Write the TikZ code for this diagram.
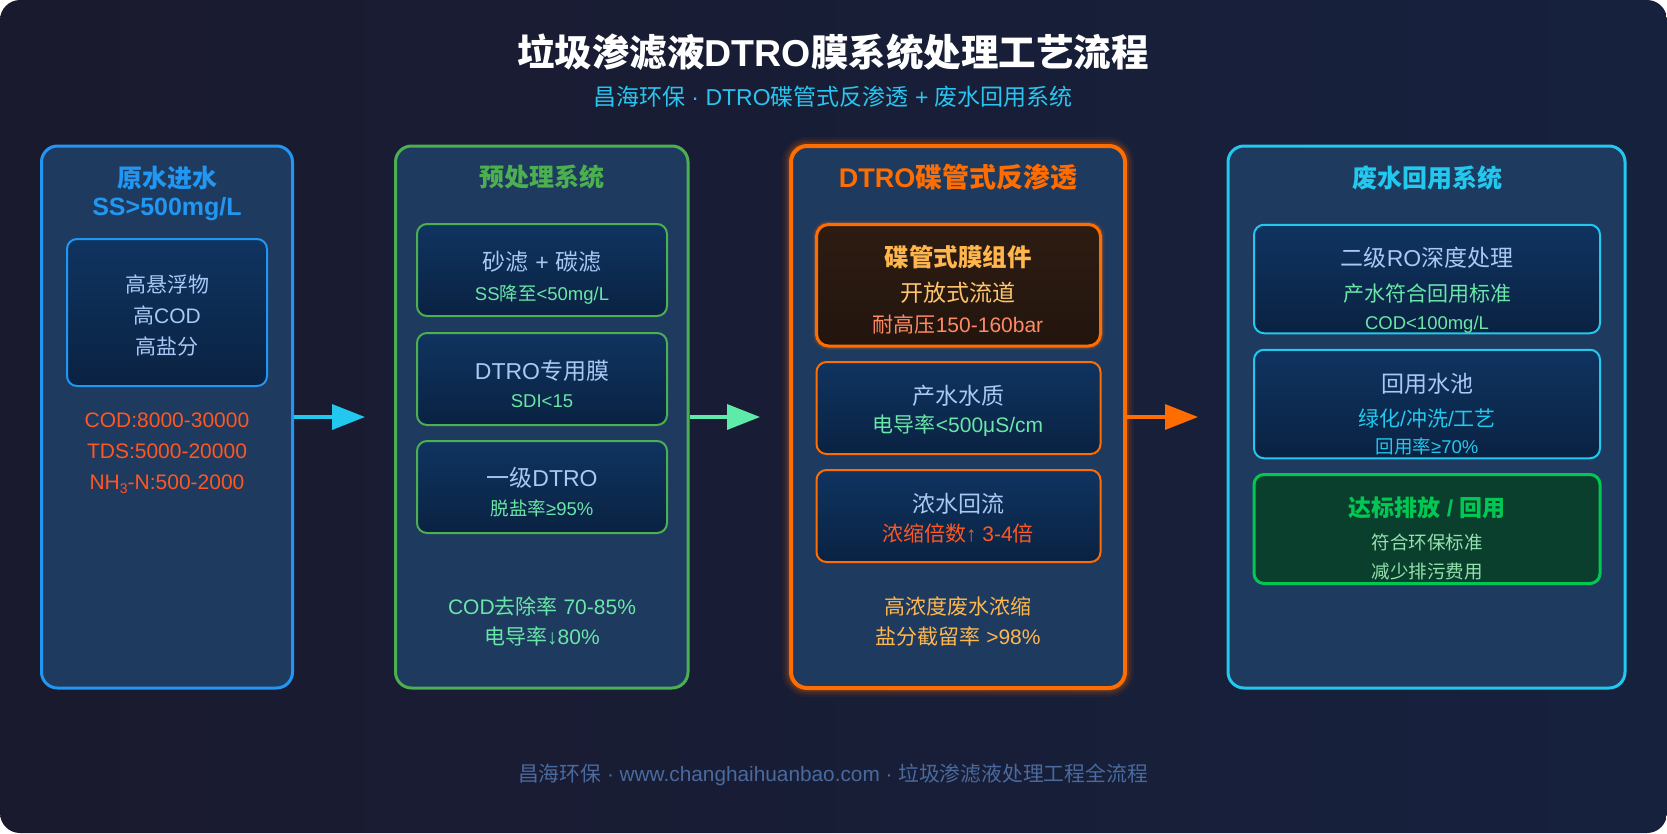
\documentclass[tikz,border=0pt]{standalone}
\usepackage{fontspec}
\setmainfont{Liberation Sans}
\newfontfamily\cjkfont{Noto Sans CJK SC}
\usetikzlibrary{arrows.meta}
% automatic switch to the CJK font for ideographs (no grouping)
\XeTeXinterchartokenstate=1
\newXeTeXintercharclass\CJKcls
\makeatletter
\count@="3000
\loop\XeTeXcharclass\count@=\CJKcls\relax\ifnum\count@<"303F \advance\count@ 1 \repeat
\count@="4E00
\loop\XeTeXcharclass\count@=\CJKcls\relax\ifnum\count@<"9FFF \advance\count@ 1 \repeat
\count@="FF00
\loop\XeTeXcharclass\count@=\CJKcls\relax\ifnum\count@<"FFEF \advance\count@ 1 \repeat
\makeatother
\XeTeXinterchartoks 0 \CJKcls={\cjkfont}
\XeTeXinterchartoks 4095 \CJKcls={\cjkfont}
\XeTeXinterchartoks \CJKcls 0={\rmfamily}
\XeTeXinterchartoks \CJKcls 4095={\rmfamily}

\definecolor{bgA}{HTML}{1A1A2E}
\definecolor{bgB}{HTML}{16213E}
\definecolor{panel}{HTML}{1E3A5F}
\definecolor{innerT}{HTML}{0F3460}
\definecolor{innerB}{HTML}{0A2242}
\definecolor{cBlue}{HTML}{2196F3}
\definecolor{cGreen}{HTML}{4CAF50}
\definecolor{cOrange}{HTML}{FF6D00}
\definecolor{cCyan}{HTML}{22C8EE}
\definecolor{lightT}{HTML}{A9C8F5}
\definecolor{mint}{HTML}{69E6A8}
\definecolor{redT}{HTML}{FF5722}
\definecolor{amber}{HTML}{FFB74D}
\definecolor{amberL}{HTML}{FFC46E}
\definecolor{salmon}{HTML}{FF8A65}
\definecolor{brownT}{HTML}{2E1C12}
\definecolor{brownB}{HTML}{22150E}
\definecolor{dkGreen}{HTML}{0B3F2D}
\definecolor{brGreen}{HTML}{00C853}
\definecolor{paleGreen}{HTML}{93E2AE}
\definecolor{footC}{HTML}{4A6A9E}
\definecolor{subC}{HTML}{29C5F0}
\definecolor{arrMint}{HTML}{5EEAA8}

\newcommand\tx[6]{\node[anchor=base,inner sep=0pt,text=#5,font=\fontsize{#4}{#4}\selectfont] (#1) at (#2,{#3+0.37*#4}) {#6};}

\tikzset{
  panelbox/.style={rectangle,draw=#1,fill=panel,line width=3pt,rounded corners=16pt,inner sep=0pt},
  inbox/.style={rectangle,draw=#1,line width=2pt,rounded corners=10pt,top color=innerT,bottom color=innerB,inner sep=0pt},
  flowarr/.style={draw=#1,line width=3.5pt,-{Triangle[length=33pt,width=25pt,fill=#1]}}
}

\begin{document}
\begin{tikzpicture}[x=1pt,y=-1pt]
\useasboundingbox (0,0) rectangle (1667,833);
\fill[white] (0,0) rectangle (1667,833);
\shade[rounded corners=20pt,left color=bgA,right color=bgB] (0,0) rectangle (1667,833);

% title
\tx{title}{833}{53}{37.5}{white}{\bfseries 垃圾渗滤液DTRO膜系统处理工艺流程}
\tx{subtitle}{833}{97}{23}{subC}{昌海环保 · DTRO碟管式反渗透 + 废水回用系统}

% glow of the DTRO panel
\foreach \w/\o in {18/0.06,13/0.10,8/0.16}
  \draw[cOrange,line width=\w pt,opacity=\o,rounded corners=16pt] (791,146) rectangle (1125,688);

% panels
\node[panelbox=cBlue,minimum width=251pt,minimum height=542pt] (b1) at (167,417) {};
\node[panelbox=cGreen,minimum width=292.5pt,minimum height=542pt] (b2) at (541.75,417) {};
\node[panelbox=cOrange,line width=4pt,minimum width=334pt,minimum height=542pt] (b3) at (958,417) {};
\node[panelbox=cCyan,minimum width=397pt,minimum height=542pt] (b4) at (1426.5,417) {};

% panel 1
\tx{h1a}{167}{178}{25}{cBlue}{\bfseries 原水进水}
\tx{h1b}{167}{206}{25}{cBlue}{\bfseries SS>500mg/L}
\node[inbox=cBlue,minimum width=200pt,minimum height=147pt] (i11) at (167,312.5) {};
\tx{t111}{167}{285}{21}{lightT}{高悬浮物}
\tx{t112}{167}{316}{21}{lightT}{高COD}
\tx{t113}{167}{347}{21}{lightT}{高盐分}
\tx{p11}{167}{420}{21}{redT}{COD:8000-30000}
\tx{p12}{167}{451}{21}{redT}{TDS:5000-20000}
\tx{p13}{167}{482}{21}{redT}{NH\raisebox{-0.2em}{\fontsize{14}{14}\selectfont 3}-N:500-2000}

% panel 2
\tx{h2}{542}{177}{25}{cGreen}{\bfseries 预处理系统}
\node[inbox=cGreen,minimum width=250pt,minimum height=92pt] (i21) at (542,270) {};
\node[inbox=cGreen,minimum width=250pt,minimum height=92pt] (i22) at (542,379) {};
\node[inbox=cGreen,minimum width=250pt,minimum height=92pt] (i23) at (542,487) {};
\tx{t211}{542}{262}{23}{lightT}{砂滤 + 碳滤}
\tx{t212}{542}{294}{18.5}{mint}{SS降至<50mg/L}
\tx{t221}{542}{371}{23}{lightT}{DTRO专用膜}
\tx{t222}{542}{401}{18.5}{mint}{SDI<15}
\tx{t231}{542}{478}{23}{lightT}{一级DTRO}
\tx{t232}{542}{509}{18.5}{mint}{脱盐率≥95\%}
\tx{p21}{542}{607}{21}{mint}{COD去除率 70-85\%}
\tx{p22}{542}{637}{21}{mint}{电导率↓80\%}

% panel 3
\tx{h3}{958}{178}{27}{cOrange}{\bfseries DTRO碟管式反渗透}
\foreach \w/\o in {8/0.10,5/0.18}
  \draw[cOrange,line width=\w pt,opacity=\o,rounded corners=12pt] (816.5,224.5) rectangle (1100.5,346);
\node[rectangle,draw=cOrange,line width=3pt,rounded corners=12pt,top color=brownT,bottom color=brownB,inner sep=0pt,minimum width=284pt,minimum height=121.5pt] (i31) at (958.5,285.25) {};
\node[inbox=cOrange,minimum width=284pt,minimum height=92pt] (i32) at (958.5,408) {};
\node[inbox=cOrange,minimum width=284pt,minimum height=92pt] (i33) at (958.5,516) {};
\tx{t311}{958}{257}{24.5}{amber}{\bfseries 碟管式膜组件}
\tx{t312}{958}{293}{23}{amberL}{开放式流道}
\tx{t313}{958}{325}{21}{salmon}{耐高压150-160bar}
\tx{t321}{958}{396}{23}{lightT}{产水水质}
\tx{t322}{958}{425}{21}{mint}{电导率<500μS/cm}
\tx{t331}{958}{504}{23}{lightT}{浓水回流}
\tx{t332}{958}{534}{21}{redT}{浓缩倍数↑ 3-4倍}
\tx{p31}{958}{607}{21}{amber}{高浓度废水浓缩}
\tx{p32}{958}{637}{21}{amber}{盐分截留率 >98\%}

% panel 4
\tx{h4}{1427}{178}{25}{cCyan}{\bfseries 废水回用系统}
\node[inbox=cCyan,minimum width=346pt,minimum height=108.5pt] (i41) at (1427,279) {};
\node[inbox=cCyan,minimum width=346pt,minimum height=108.5pt] (i42) at (1427,404) {};
\node[rectangle,draw=brGreen,line width=3pt,rounded corners=10pt,fill=dkGreen,inner sep=0pt,minimum width=346pt,minimum height=109pt] (i43) at (1427,529) {};
\tx{t411}{1427}{258}{23}{lightT}{二级RO深度处理}
\tx{t412}{1427}{294}{21}{mint}{产水符合回用标准}
\tx{t413}{1427}{323}{18.5}{mint}{COD<100mg/L}
\tx{t421}{1427}{384}{23}{lightT}{回用水池}
\tx{t422}{1427}{419}{21}{cCyan}{绿化/冲洗/工艺}
\tx{t423}{1427}{447}{18.5}{cCyan}{回用率≥70\%}
\tx{t431}{1427}{508}{23}{brGreen}{\bfseries 达标排放 / 回用}
\tx{t432}{1427}{543}{18.5}{paleGreen}{符合环保标准}
\tx{t433}{1427}{572}{18.5}{paleGreen}{减少排污费用}

% arrows
\coordinate (e1) at (365,417);
\coordinate (e2) at (760,417);
\coordinate (e3) at (1198,417);
\draw[flowarr=cCyan] (b1.east) -- (e1);
\draw[flowarr=arrMint] (b2.east) -- (e2);
\draw[flowarr=cOrange] (b3.east) -- (e3);

% footer
\tx{foot}{833}{774}{20.8}{footC}{昌海环保 · www.changhaihuanbao.com · 垃圾渗滤液处理工程全流程}
\end{tikzpicture}
\end{document}
